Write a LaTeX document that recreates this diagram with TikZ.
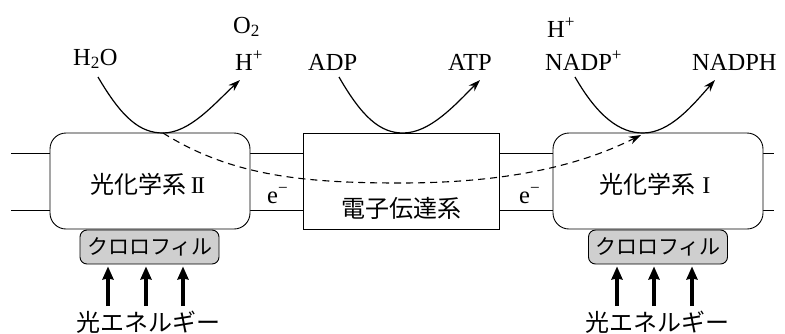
\documentclass[tikz,border=0pt]{standalone}
\usepackage{fontspec}
\setmainfont{Liberation Serif}
\newfontfamily\jp{Noto Sans CJK JP}
\usetikzlibrary{arrows.meta}
\begin{document}
\begin{tikzpicture}[x=1pt,y=-1pt,
  lbl/.style={font=\fontsize{24.5}{28}\selectfont, inner sep=0pt, anchor=base west},
  jlbl/.style={font=\fontsize{24}{28}\selectfont\jp, inner sep=0pt},
  chltxt/.style={font=\fontsize{21}{25}\selectfont\jp, inner sep=0pt},
  mem/.style={line width=0.8pt},
  psbox/.style={draw, line width=0.9pt, fill=white, rounded corners=16pt, minimum height=96pt, inner sep=0pt},
  etcbox/.style={draw, line width=0.9pt, fill=white, minimum width=196pt, minimum height=96pt, inner sep=0pt},
  chlbox/.style={draw, line width=0.9pt, fill=black!19, rounded corners=7pt, minimum width=139pt, minimum height=34pt, inner sep=0pt},
  curve/.style={line width=1.2pt, -{Stealth[length=12pt,width=8pt]}},
  dcurve/.style={line width=1.1pt, dash pattern=on 7pt off 5pt, -{Stealth[length=12pt,width=8pt]}},
  lightarr/.style={line width=3.4pt, shorten >=2pt, -{Stealth[length=13pt,width=11pt,inset=1pt]}}
]
\useasboundingbox (0,0) rectangle (785,333);
% membrane
\coordinate (mtl) at (11,153); \coordinate (mtr) at (774,153);
\coordinate (mbl) at (11,210); \coordinate (mbr) at (774,210);
\draw[mem] (mtl) -- (mtr);
\draw[mem] (mbl) -- (mbr);
% boxes
\node[psbox, minimum width=200pt] (ps2) at (150,181) {};
\node[etcbox] (etc) at (401,181) {};
\node[psbox, minimum width=210pt] (ps1) at (658,181) {};
\node[chlbox] (chl2) at (149.5,247) {};
\node[chlbox] (chl1) at (658,247) {};
% box texts
\node[jlbl] (ps2t) at (148,184) {光化学系\,{\rmfamily I\kern-1.6ptI}};
\node[jlbl] (etct) at (401,208) {電子伝達系};
\node[jlbl] (ps1t) at (655,184) {光化学系\;{\rmfamily I}};
\node[chltxt] (chl2t) at (150,247) {クロロフィル};
\node[chltxt] (chl1t) at (658,247) {クロロフィル};
\node[lbl] (e1) at (267,203) {e\textsuperscript{−}};
\node[lbl] (e2) at (519,203) {e\textsuperscript{−}};
% top labels
\node[lbl] (h2o) at (73,65) {H\textsubscript{2}O};
\node[lbl] (o2) at (233,33) {O\textsubscript{2}};
\node[lbl] (hp1) at (235,70) {H\textsuperscript{+}};
\node[lbl] (adp) at (308,70) {ADP};
\node[lbl] (atp) at (448,70) {ATP};
\node[lbl] (hp2) at (547,37) {H\textsuperscript{+}};
\node[lbl] (nadp) at (545,70) {NADP\textsuperscript{+}};
\node[lbl] (nadph) at (692,70) {NADPH};
% curves
\coordinate (c1s) at (98,77); \coordinate (c1b) at (163,133); \coordinate (c1e) at (240,80);
\coordinate (c2s) at (339,77); \coordinate (c2b) at (403,133); \coordinate (c2e) at (480,80);
\coordinate (c3s) at (575,77); \coordinate (c3b) at (643,133); \coordinate (c3e) at (715,80);
\coordinate (dm) at (400,183); \coordinate (de) at (641,135);
\draw[curve] (c1s) .. controls (122,118) and (140,133) .. (c1b) .. controls (190,133) and (215,103) .. (c1e);
\draw[curve] (c2s) .. controls (362,117) and (380,133) .. (c2b) .. controls (430,133) and (455,105) .. (c2e);
\draw[curve] (c3s) .. controls (598,117) and (620,133) .. (c3b) .. controls (670,133) and (693,105) .. (c3e);
\draw[dcurve] (c1b) .. controls (230,175) and (300,183) .. (dm) .. controls (500,183) and (575,168) .. (de);
% light arrows
\foreach \n/\x in {a/108,b/146,c/183,d/617,e/654,f/692}{
  \coordinate (l\n) at (\x,306);
}
\draw[lightarr] (la) -- (la |- chl2.south);
\draw[lightarr] (lb) -- (lb |- chl2.south);
\draw[lightarr] (lc) -- (lc |- chl2.south);
\draw[lightarr] (ld) -- (ld |- chl1.south);
\draw[lightarr] (le) -- (le |- chl1.south);
\draw[lightarr] (lf) -- (lf |- chl1.south);
\node[jlbl] (en2) at (148.5,322) {光エネルギー};
\node[jlbl] (en1) at (657,322) {光エネルギー};
\end{tikzpicture}
\end{document}
